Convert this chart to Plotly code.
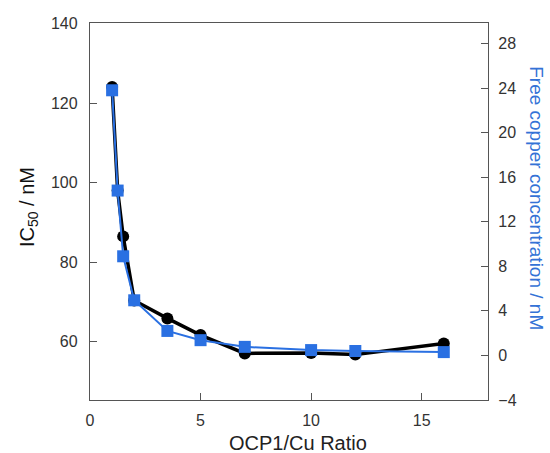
import plotly.graph_objects as go

ratio_ic50 = [1, 1.25, 1.5, 2, 3.5, 5, 7, 10, 12, 16]
ic50 = [124, 98, 86.5, 70.4, 65.9, 61.7, 57.1, 57.2, 56.8, 59.6]
ratio_cu = [1, 1.25, 1.5, 2, 3.5, 5, 7, 10, 12, 16]
free_cu = [23.8, 14.8, 8.9, 4.95, 2.2, 1.37, 0.77, 0.48, 0.4, 0.3]

x_ticks = [0, 5, 10, 15]
y_ticks = [60, 80, 100, 120, 140]
y2_ticks = [-4, 0, 4, 8, 12, 16, 20, 24, 28]

BLUE = "#2a70e2"
FONT = "Liberation Sans, Arial, sans-serif"

fig = go.Figure()
fig.add_trace(go.Scatter(
    x=ratio_ic50, y=ic50, mode="lines+markers",
    line=dict(color="black", width=3.5),
    marker=dict(symbol="circle", size=12, color="black"),
    showlegend=False))
fig.add_trace(go.Scatter(
    x=ratio_cu, y=free_cu, mode="lines+markers", yaxis="y2",
    line=dict(color=BLUE, width=2),
    marker=dict(symbol="square", size=12, color=BLUE),
    showlegend=False))

axis_common = dict(
    showline=True, linecolor="#555", linewidth=1.3,
    ticks="inside", ticklen=7, tickwidth=1.3, tickcolor="#555",
    showgrid=False, zeroline=False,
    tickfont=dict(family=FONT, size=16, color="#333"),
)

fig.update_layout(
    width=550, height=453,
    margin=dict(l=90, r=62, t=23, b=53),
    paper_bgcolor="white", plot_bgcolor="white",
    xaxis=dict(range=[0, 18], tickvals=x_ticks, mirror=True,
               ticklabelstandoff=6, **axis_common),
    yaxis=dict(range=[45.4, 140.1], tickvals=y_ticks,
               ticklabelstandoff=8, **axis_common),
    yaxis2=dict(range=[-4, 29.84], tickvals=y2_ticks, overlaying="y",
                side="right", ticklabelstandoff=6, **axis_common),
    annotations=[
        dict(text="IC<sub>50</sub> / nM", xref="paper", yref="paper",
             x=-0.156, y=0.5115, xanchor="center", yanchor="middle",
             textangle=-90, showarrow=False,
             font=dict(family=FONT, size=20, color="#111")),
        dict(text="Free copper concentration / nM", xref="paper", yref="paper",
             x=1.123, y=0.5354, xanchor="center", yanchor="middle",
             textangle=90, showarrow=False,
             font=dict(family=FONT, size=19, color="#3472d6")),
        dict(text="OCP1/Cu Ratio", xref="paper", yref="paper",
             x=0.5226, y=-0.114, xanchor="center", yanchor="middle",
             showarrow=False,
             font=dict(family=FONT, size=20, color="#222")),
    ],
)

fig.write_html("out.html")
